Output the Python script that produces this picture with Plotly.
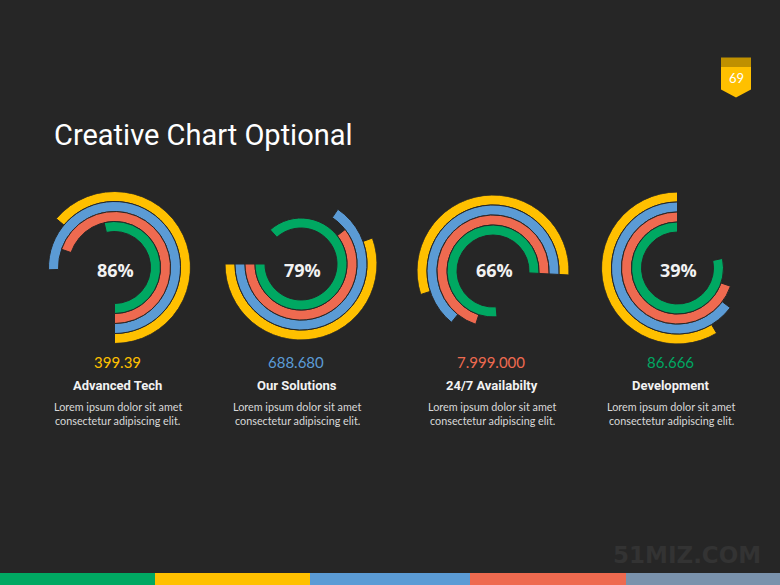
import plotly.graph_objects as go

W, H = 780, 585
BG = "#262626"

# ---- data ----
ring_names = ["Yellow", "Blue", "Red", "Green"]
ring_colors = ["#FFC000", "#5B9BD5", "#EE6A50", "#00A862"]
chart_starts = [180, 270, 93, 0]          # clock degrees where each arc starts
chart_extents = [                          # arc extents (degrees), counter-clockwise
    [230, 272, 251, 193],
    [200, 236, 218, 312],
    [201, 234, 255, 278],
    [211, 233, 251, 282],
]
percent_labels = ["86%", "79%", "66%", "39%"]
value_labels = ["399.39", "688.680", "7.999.000", "86.666"]
value_colors = ["#FFC000", "#5B9BD5", "#EE6A50", "#00A862"]
titles = ["Advanced Tech", "Our Solutions", "24/7 Availabilty", "Development"]
body_line1 = "Lorem ipsum dolor sit amet"
body_line2 = "consectetur adipiscing elit."
page_number = "69"

# ---- layout helpers (pixels) ----
centers = [(114.5, 267.5), (301, 264), (493, 271), (677.5, 268)]
R_PX = 76
ring_base = [6.6, 5.6, 4.6, 3.6]
ring_thick = 1.0
r_max = 7.6
text_x = [117, 296, 491, 670]


def px(x):
    return x / W


def py(y):
    return (H - y) / H


fig = go.Figure()
layout_polars = {}
for i in range(4):
    name = "polar" if i == 0 else f"polar{i+1}"
    s = chart_starts[i]
    ext = chart_extents[i]
    fig.add_trace(go.Barpolar(
        r=[ring_thick] * 4,
        base=ring_base,
        theta=[s - e / 2 for e in ext],
        width=ext,
        marker=dict(color=ring_colors, line=dict(color=BG, width=1)),
        subplot=name,
        showlegend=False,
        hoverinfo="skip",
    ))
    cx, cy = centers[i]
    layout_polars[name] = dict(
        domain=dict(x=[px(cx - R_PX), px(cx + R_PX)], y=[py(cy + R_PX), py(cy - R_PX)]),
        bgcolor="rgba(0,0,0,0)",
        angularaxis=dict(visible=False, rotation=90, direction="clockwise"),
        radialaxis=dict(visible=False, range=[0, r_max]),
    )


def ann(x, y, text, font, xanchor="center"):
    return dict(x=px(x), y=py(y), xref="paper", yref="paper", xanchor=xanchor, yanchor="middle",
                text=text, showarrow=False, font=font)


annotations = []
annotations.append(ann(52, 135, "Creative Chart Optional",
                       dict(family="Roboto", size=29, color="#FFFFFF"), xanchor="left"))
for i in range(4):
    cx, cy = centers[i]
    annotations.append(ann(cx + 1, 270, f"<b>{percent_labels[i]}</b>",
                           dict(family="Open Sans", size=18, color="#F2F2F2")))
    annotations.append(ann(text_x[i], 362, value_labels[i],
                           dict(family="Lato", size=15, color=value_colors[i])))
    annotations.append(ann(text_x[i] + 1, 385, f"<b>{titles[i]}</b>",
                           dict(family="Roboto", size=13, color="#F2F2F2")))
    annotations.append(ann(text_x[i] + 1, 406, body_line1,
                           dict(family="Lato", size=10.8, color="#D9D9D9")))
    annotations.append(ann(text_x[i] + 1, 420, body_line2,
                           dict(family="Lato", size=10.8, color="#D9D9D9")))
annotations.append(ann(736, 78.5, page_number, dict(family="Lato", size=13, color="#FFFFFF")))
annotations.append(ann(687, 555, "<b>51MIZ.COM</b>", dict(family="DejaVu Sans", size=23, color="#333333")))

shapes = []
# badge
shapes.append(dict(type="rect", xref="paper", yref="paper", x0=px(721), x1=px(751), y0=py(67), y1=py(57.5),
                   fillcolor="#BF9000", line=dict(width=0), layer="below"))
shapes.append(dict(type="path", xref="paper", yref="paper",
                   path=f"M {px(721)} {py(67)} L {px(751)} {py(67)} L {px(751)} {py(89.5)} L {px(736)} {py(97.5)} L {px(721)} {py(89.5)} Z",
                   fillcolor="#FFC000", line=dict(width=0), layer="below"))
# bottom color bar
bar_cols = ["#00A862", "#FFC000", "#5B9BD5", "#EE6A50", "#7A92AC"]
bar_edges = [0, 155, 310, 470, 626, 780]
for k, c in enumerate(bar_cols):
    shapes.append(dict(type="rect", xref="paper", yref="paper", x0=px(bar_edges[k]), x1=px(bar_edges[k + 1]),
                       y0=0, y1=py(573), fillcolor=c, line=dict(width=0), layer="below"))

fig.update_layout(
    width=W, height=H,
    margin=dict(l=0, r=0, t=0, b=0),
    paper_bgcolor=BG, plot_bgcolor=BG,
    showlegend=False,
    annotations=annotations,
    shapes=shapes,
    **layout_polars,
)

fig.write_html("out.html", config={"displayModeBar": False},
               post_script="document.body.style.margin='0';document.body.style.background='#262626';")
